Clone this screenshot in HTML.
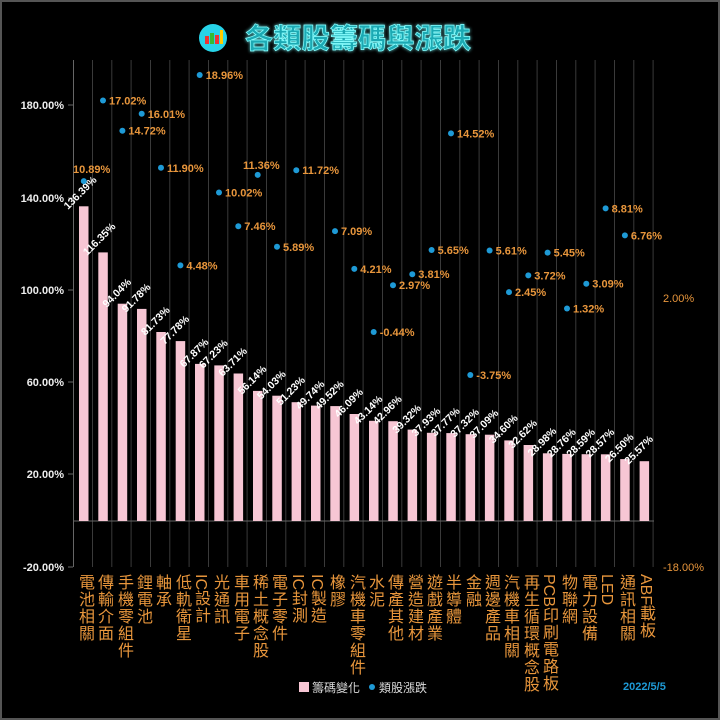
<!DOCTYPE html>
<html><head><meta charset="utf-8"><style>
body{margin:0;background:#000;}
#w{position:relative;width:716px;height:716px;border:2px solid #555;background:#000;overflow:hidden;font-family:"Liberation Sans","Noto Sans CJK TC",sans-serif;}
.c{position:absolute;top:572px;writing-mode:vertical-rl;text-orientation:mixed;font-size:16px;line-height:16px;letter-spacing:1px;color:#e8963c;font-family:"Liberation Sans","Noto Sans CJK TC",sans-serif;}
.c span{text-orientation:sideways;letter-spacing:0;}
</style></head><body><div id="w">
<svg width="716" height="716" style="position:absolute;left:0;top:0" font-family="Liberation Sans, Noto Sans CJK TC, sans-serif">
<defs><filter id="gl"><feGaussianBlur stdDeviation="1.5" result="b"/><feMerge><feMergeNode in="b"/><feMergeNode in="SourceGraphic"/></feMerge></filter></defs>
<g transform="translate(-2,-2)">
<circle cx="213" cy="38" r="14" fill="#27d3e8"/>
<rect x="205" y="36" width="4" height="8" fill="#e33"/><rect x="210" y="33" width="4" height="11" fill="#3b3"/><rect x="215" y="35" width="4" height="9" fill="#e33"/><rect x="220" y="30" width="3" height="14" fill="#fc0"/>
<text x="245" y="48" font-size="28" font-weight="bold" fill="#1aa9b3" stroke="#8ff" stroke-width="0.7" filter="url(#gl)" textLength="226" font-family="Noto Sans CJK TC, sans-serif">各類股籌碼與漲跌</text>
<g stroke="#3a3a3a" stroke-width="1">
<line x1="92.5" y1="60" x2="92.5" y2="567"/><line x1="111.8" y1="60" x2="111.8" y2="567"/><line x1="131.1" y1="60" x2="131.1" y2="567"/><line x1="150.5" y1="60" x2="150.5" y2="567"/><line x1="169.8" y1="60" x2="169.8" y2="567"/><line x1="189.1" y1="60" x2="189.1" y2="567"/><line x1="208.5" y1="60" x2="208.5" y2="567"/><line x1="227.8" y1="60" x2="227.8" y2="567"/><line x1="247.1" y1="60" x2="247.1" y2="567"/><line x1="266.5" y1="60" x2="266.5" y2="567"/><line x1="285.8" y1="60" x2="285.8" y2="567"/><line x1="305.1" y1="60" x2="305.1" y2="567"/><line x1="324.5" y1="60" x2="324.5" y2="567"/><line x1="343.8" y1="60" x2="343.8" y2="567"/><line x1="363.1" y1="60" x2="363.1" y2="567"/><line x1="382.5" y1="60" x2="382.5" y2="567"/><line x1="401.8" y1="60" x2="401.8" y2="567"/><line x1="421.1" y1="60" x2="421.1" y2="567"/><line x1="440.5" y1="60" x2="440.5" y2="567"/><line x1="459.8" y1="60" x2="459.8" y2="567"/><line x1="479.1" y1="60" x2="479.1" y2="567"/><line x1="498.5" y1="60" x2="498.5" y2="567"/><line x1="517.8" y1="60" x2="517.8" y2="567"/><line x1="537.1" y1="60" x2="537.1" y2="567"/><line x1="556.5" y1="60" x2="556.5" y2="567"/><line x1="575.8" y1="60" x2="575.8" y2="567"/><line x1="595.1" y1="60" x2="595.1" y2="567"/><line x1="614.5" y1="60" x2="614.5" y2="567"/><line x1="633.8" y1="60" x2="633.8" y2="567"/><line x1="653.1" y1="60" x2="653.1" y2="567"/>
</g>
<g stroke="#666" stroke-width="1"><line x1="73.5" y1="60" x2="73.5" y2="567"/><line x1="73" y1="521" x2="654" y2="521"/>
<line x1="68" y1="105" x2="73" y2="105"/><line x1="68" y1="198" x2="73" y2="198"/><line x1="68" y1="290" x2="73" y2="290"/><line x1="68" y1="382" x2="73" y2="382"/><line x1="68" y1="474" x2="73" y2="474"/><line x1="68" y1="567" x2="73" y2="567"/></g>
<g font-size="11" font-weight="bold" fill="#eee" text-anchor="end">
<text x="64" y="109">180.00%</text><text x="64" y="202">140.00%</text><text x="64" y="294">100.00%</text><text x="64" y="386">60.00%</text><text x="64" y="478">20.00%</text><text x="64" y="571">-20.00%</text></g>
<g font-size="11" fill="#e8963c"><text x="663" y="302">2.00%</text><text x="663" y="571">-18.00%</text></g>
<g fill="#f7c6d4">
<rect x="79" y="206.3" width="9.5" height="314.7"/><rect x="98.3" y="252.4" width="9.5" height="268.6"/><rect x="117.7" y="303.7" width="9.5" height="217.3"/><rect x="137" y="308.9" width="9.5" height="212.1"/><rect x="156.3" y="332" width="9.5" height="189"/><rect x="175.7" y="341.1" width="9.5" height="179.9"/><rect x="195" y="363.9" width="9.5" height="157.1"/><rect x="214.3" y="365.4" width="9.5" height="155.6"/><rect x="233.6" y="373.5" width="9.5" height="147.5"/><rect x="253" y="390.9" width="9.5" height="130.1"/><rect x="272.3" y="395.7" width="9.5" height="125.3"/><rect x="291.6" y="402.2" width="9.5" height="118.8"/><rect x="311" y="405.6" width="9.5" height="115.4"/><rect x="330.3" y="406.1" width="9.5" height="114.9"/><rect x="349.6" y="414" width="9.5" height="107"/><rect x="369" y="420.8" width="9.5" height="100.2"/><rect x="388.3" y="421.2" width="9.5" height="99.8"/><rect x="407.6" y="429.6" width="9.5" height="91.4"/><rect x="426.9" y="432.8" width="9.5" height="88.2"/><rect x="446.3" y="433.1" width="9.5" height="87.9"/><rect x="465.6" y="434.2" width="9.5" height="86.8"/><rect x="484.9" y="434.7" width="9.5" height="86.3"/><rect x="504.3" y="440.4" width="9.5" height="80.6"/><rect x="523.6" y="445" width="9.5" height="76"/><rect x="542.9" y="453.3" width="9.5" height="67.7"/><rect x="562.3" y="453.9" width="9.5" height="67.1"/><rect x="581.6" y="454.2" width="9.5" height="66.8"/><rect x="600.9" y="454.3" width="9.5" height="66.7"/><rect x="620.2" y="459.1" width="9.5" height="61.9"/><rect x="639.6" y="461.2" width="9.5" height="59.8"/>
</g>
<g font-size="10.5" font-weight="bold" fill="#fff">
<text transform="translate(68,210) rotate(-45)">136.39%</text>
<text transform="translate(87.3,256) rotate(-45)">116.35%</text>
<text transform="translate(106.7,308) rotate(-45)">94.04%</text>
<text transform="translate(126,313) rotate(-45)">91.78%</text>
<text transform="translate(145.3,336) rotate(-45)">81.73%</text>
<text transform="translate(164.7,345) rotate(-45)">77.78%</text>
<text transform="translate(184,368) rotate(-45)">67.87%</text>
<text transform="translate(203.3,369) rotate(-45)">67.23%</text>
<text transform="translate(222.6,377) rotate(-45)">63.71%</text>
<text transform="translate(242,395) rotate(-45)">56.14%</text>
<text transform="translate(261.3,400) rotate(-45)">54.03%</text>
<text transform="translate(280.6,406) rotate(-45)">51.23%</text>
<text transform="translate(300,410) rotate(-45)">49.74%</text>
<text transform="translate(319.3,410) rotate(-45)">49.52%</text>
<text transform="translate(338.6,418) rotate(-45)">46.09%</text>
<text transform="translate(358,425) rotate(-45)">43.14%</text>
<text transform="translate(377.3,425) rotate(-45)">42.96%</text>
<text transform="translate(396.6,434) rotate(-45)">39.32%</text>
<text transform="translate(415.9,437) rotate(-45)">37.93%</text>
<text transform="translate(435.3,437) rotate(-45)">37.77%</text>
<text transform="translate(454.6,438) rotate(-45)">37.32%</text>
<text transform="translate(473.9,439) rotate(-45)">37.09%</text>
<text transform="translate(493.3,444) rotate(-45)">34.60%</text>
<text transform="translate(512.6,449) rotate(-45)">32.62%</text>
<text transform="translate(531.9,457) rotate(-45)">28.98%</text>
<text transform="translate(551.3,458) rotate(-45)">28.76%</text>
<text transform="translate(570.6,458) rotate(-45)">28.59%</text>
<text transform="translate(589.9,458) rotate(-45)">28.57%</text>
<text transform="translate(609.2,463) rotate(-45)">26.50%</text>
<text transform="translate(628.6,465) rotate(-45)">25.57%</text>
</g>
<g fill="#1e9ad6">
<circle cx="83.8" cy="181.1" r="3"/><circle cx="103" cy="100.5" r="3"/><circle cx="122.4" cy="130.7" r="3"/><circle cx="141.7" cy="113.8" r="3"/><circle cx="161" cy="167.8" r="3"/><circle cx="180.4" cy="265.4" r="3"/><circle cx="199.7" cy="75" r="3"/><circle cx="219" cy="192.5" r="3"/><circle cx="238.3" cy="226.2" r="3"/><circle cx="257.7" cy="174.9" r="3"/><circle cx="277" cy="246.8" r="3"/><circle cx="296.3" cy="170.2" r="3"/><circle cx="335" cy="231.1" r="3"/><circle cx="354.3" cy="268.9" r="3"/><circle cx="373.7" cy="332" r="3"/><circle cx="393" cy="285.2" r="3"/><circle cx="412.3" cy="274.2" r="3"/><circle cx="431.6" cy="250" r="3"/><circle cx="451" cy="133.4" r="3"/><circle cx="470.3" cy="375" r="3"/><circle cx="489.6" cy="250.5" r="3"/><circle cx="509" cy="292.1" r="3"/><circle cx="528.3" cy="275.4" r="3"/><circle cx="547.6" cy="252.6" r="3"/><circle cx="567" cy="308.5" r="3"/><circle cx="586.3" cy="283.7" r="3"/><circle cx="605.6" cy="208.4" r="3"/><circle cx="624.9" cy="235.4" r="3"/>
</g>
<g font-size="11" font-weight="bold" fill="#e8963c">
<text x="73" y="173">10.89%</text><text x="109" y="104.5">17.02%</text><text x="128.4" y="134.7">14.72%</text><text x="147.7" y="117.8">16.01%</text><text x="167" y="171.8">11.90%</text><text x="186.4" y="269.4">4.48%</text><text x="205.7" y="79">18.96%</text><text x="225" y="196.5">10.02%</text><text x="244.3" y="230.2">7.46%</text><text x="243" y="169">11.36%</text><text x="283" y="250.8">5.89%</text><text x="302.3" y="174.2">11.72%</text><text x="341" y="235.1">7.09%</text><text x="360.3" y="272.9">4.21%</text><text x="379.7" y="336">-0.44%</text><text x="399" y="289.2">2.97%</text><text x="418.3" y="278.2">3.81%</text><text x="437.6" y="254">5.65%</text><text x="457" y="137.4">14.52%</text><text x="476.3" y="379">-3.75%</text><text x="495.6" y="254.5">5.61%</text><text x="515" y="296.1">2.45%</text><text x="534.3" y="279.4">3.72%</text><text x="553.6" y="256.6">5.45%</text><text x="573" y="312.5">1.32%</text><text x="592.3" y="287.7">3.09%</text><text x="611.6" y="212.4">8.81%</text><text x="630.9" y="239.4">6.76%</text>
</g>
<rect x="299" y="682" width="10" height="10" fill="#f7c6d4"/>
<text x="312" y="692" font-size="12" fill="#ddd">籌碼變化</text>
<circle cx="372" cy="687" r="3" fill="#1e9ad6"/>
<text x="379" y="692" font-size="12" fill="#ddd">類股漲跌</text>
<text x="623" y="690" font-size="11" font-weight="bold" fill="#1e9ad6">2022/5/5</text>
</g></svg>
<div class="c" style="left:74px">電池相關</div><div class="c" style="left:93px">傳輸介面</div><div class="c" style="left:113px">手機零組件</div><div class="c" style="left:132px">鋰電池</div><div class="c" style="left:151px">軸承</div><div class="c" style="left:171px">低軌衛星</div><div class="c" style="left:190px"><span>IC</span>設計</div><div class="c" style="left:209px">光通訊</div><div class="c" style="left:229px">車用電子</div><div class="c" style="left:248px">稀土概念股</div><div class="c" style="left:267px">電子零件</div><div class="c" style="left:287px"><span>IC</span>封測</div><div class="c" style="left:306px"><span>IC</span>製造</div><div class="c" style="left:325px">橡膠</div><div class="c" style="left:345px">汽機車零組件</div><div class="c" style="left:364px">水泥</div><div class="c" style="left:383px">傳產其他</div><div class="c" style="left:403px">營造建材</div><div class="c" style="left:422px">遊戲產業</div><div class="c" style="left:441px">半導體</div><div class="c" style="left:461px">金融</div><div class="c" style="left:480px">週邊產品</div><div class="c" style="left:499px">汽機車相關</div><div class="c" style="left:519px">再生循環概念股</div><div class="c" style="left:538px"><span>PCB</span>印刷電路板</div><div class="c" style="left:557px">物聯網</div><div class="c" style="left:577px">電力設備</div><div class="c" style="left:596px"><span>LED</span></div><div class="c" style="left:615px">通訊相關</div><div class="c" style="left:635px"><span>ABF</span>載板</div>
</div></body></html>
